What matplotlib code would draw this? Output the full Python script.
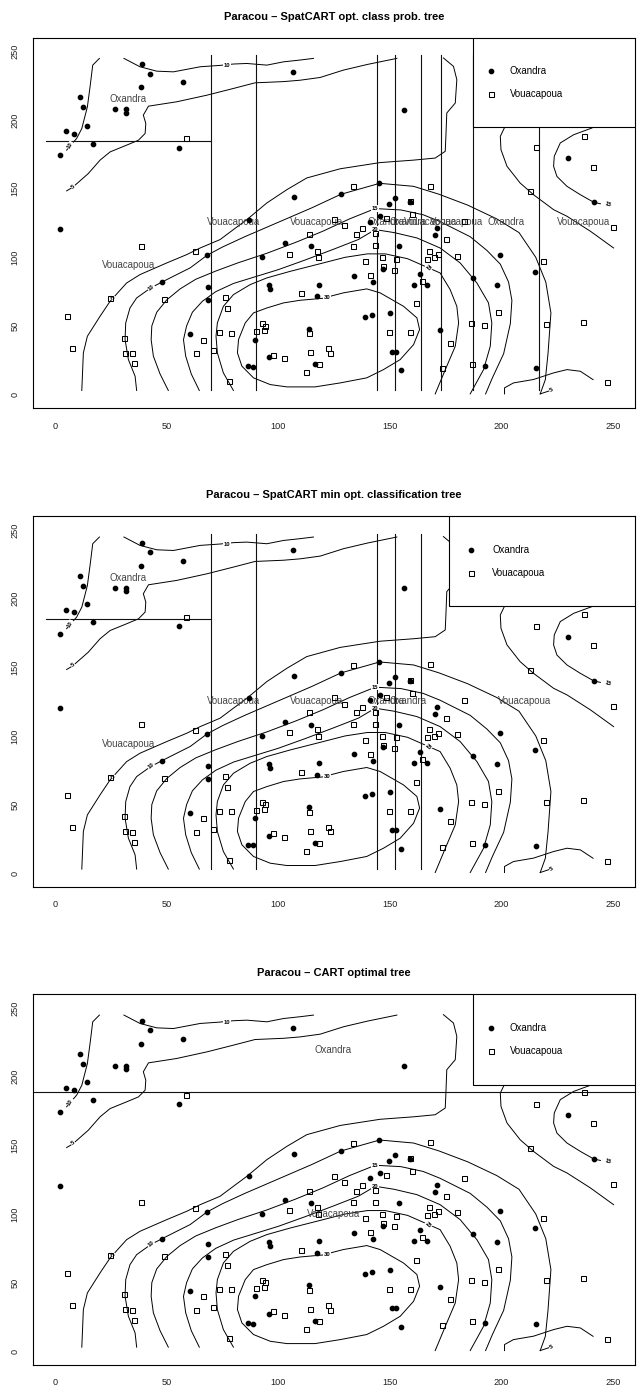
import matplotlib
matplotlib.use("Agg")
import matplotlib.pyplot as plt
from matplotlib.patches import Rectangle

plt.rcParams['font.family'] = ['Liberation Sans', 'DejaVu Sans']

# tree locations (x, y) for the two species
oxandra_x = [39.1, 42.5, 57.5, 38.5, 106.6, 10.9, 12.4, 26.9, 31.9, 31.9, 14.4, 4.9, 8.4, 16.9, 2.0,
             55.5, 107.0, 87.1, 156.6, 230.1, 241.5, 145.4, 128.1, 152.2, 149.9, 159.2, 141.0, 145.5,
             171.0, 170.3, 103.1, 114.6, 154.1, 92.6, 147.1, 134.1, 142.6, 163.6, 161.0, 166.5, 95.9,
             96.5, 118.5, 117.4, 2.0, 68.1, 47.9, 68.5, 68.5, 60.5, 89.5, 95.9, 86.5, 88.6, 113.9,
             116.6, 139.1, 142.0, 150.0, 151.1, 152.6, 155.0, 172.5, 192.6, 187.5, 198.1, 199.6, 215.0,
             215.6]
oxandra_y = [240.7, 233.7, 227.4, 223.8, 235.2, 216.7, 209.2, 207.8, 208.0, 205.3, 195.8, 191.7, 190.0,
             182.7, 174.3, 179.8, 143.9, 127.4, 207.5, 172.1, 140.1, 153.9, 145.9, 143.0, 138.6, 140.0,
             126.0, 129.8, 121.0, 116.2, 110.1, 108.0, 108.0, 100.0, 91.6, 86.5, 82.0, 88.0, 80.1, 80.1,
             79.9, 77.0, 80.1, 71.5, 120.6, 101.5, 82.0, 78.2, 68.9, 44.2, 40.0, 27.2, 20.7, 20.2, 48.0,
             22.3, 56.6, 57.8, 59.3, 31.3, 31.3, 17.8, 47.1, 20.7, 85.2, 79.9, 101.9, 89.6, 19.7]

vouaca_x = [58.5, 215.6, 237.2, 241.0, 213.1, 133.5, 168.0, 159.2, 160.2, 125.2, 148.2, 183.4, 129.6,
            113.6, 137.6, 135.0, 143.5, 175.2, 133.6, 143.5, 167.5, 171.5, 170.0, 166.5, 180.1, 105.0,
            117.6, 117.9, 139.1, 146.6, 153.0, 147.1, 152.0, 141.1, 164.6, 110.0, 162.0, 38.5, 62.6,
            48.9, 24.4, 5.4, 7.4, 31.0, 31.4, 34.4, 35.5, 76.0, 76.9, 66.4, 63.2, 70.9, 73.5, 79.0, 78.1,
            92.5, 94.1, 93.5, 89.9, 97.6, 102.5, 113.6, 114.3, 112.5, 118.3, 122.1, 123.0, 149.5, 158.9,
            177.0, 173.6, 186.4, 192.4, 198.6, 187.0, 218.6, 219.9, 236.5, 247.6, 250.0]
vouaca_y = [186.9, 180.1, 188.6, 166.0, 148.1, 151.6, 152.1, 141.0, 131.2, 128.0, 128.7, 126.2, 123.5,
            117.1, 121.1, 117.1, 117.6, 113.1, 108.6, 109.0, 104.8, 102.2, 100.0, 99.0, 101.2, 102.6,
            104.9, 100.1, 97.1, 100.0, 98.9, 93.4, 91.0, 86.9, 83.0, 73.7, 66.6, 108.5, 104.6, 69.4,
            70.4, 57.1, 34.0, 41.5, 30.6, 30.1, 23.1, 70.9, 63.1, 40.0, 30.1, 32.5, 45.6, 45.1, 9.7,
            52.2, 50.2, 47.1, 46.1, 29.1, 26.7, 44.9, 30.9, 16.3, 22.3, 34.0, 30.4, 45.4, 45.4, 37.9,
            19.2, 52.2, 50.5, 60.2, 22.3, 97.1, 51.7, 53.2, 9.2, 122.1]

# density contours: (level text, xs, ys, label x, label y, label angle)
contours = [
    ("5", [5.1, 7.8, 14.8, 20.1, 24.6, 32.0, 37.3, 40.3, 40.6, 39.5, 41.8, 54.5, 68.0, 79.9, 89.6,
           102.4, 109.8, 118.8, 129.3, 140.0, 153.2],
          [148.4, 151.0, 161.0, 170.8, 176.8, 181.7, 185.3, 190.2, 197.5, 203.6, 210.1, 213.3, 218.1,
           223.0, 227.1, 228.0, 229.0, 231.0, 236.4, 240.5, 244.9], 8.0, 151.5, 40),
    ("10", [30.8, 38.0, 45.5, 53.0, 65.0, 73.9, 79.9, 85.9, 94.9, 102.4, 109.8, 115.8],
           [244.9, 238.8, 235.6, 235.1, 238.8, 239.8, 240.8, 241.2, 240.0, 242.4, 243.7, 244.9],
     76.9, 239.8, 0),
    ("10", [19.8, 16.8, 15.6, 14.4, 11.9, 9.6, 6.6, 5.1],
           [244.9, 240.0, 224.2, 209.6, 193.8, 186.6, 181.0, 178.1], 6.8, 181.5, 60),
    ("", [203.0, 201.4, 199.6, 199.9, 202.6, 208.5, 214.5, 223.5, 229.5, 240.0, 250.4],
         [215.0, 194.2, 188.1, 178.4, 166.3, 154.1, 145.6, 134.7, 129.9, 119.0, 106.8], 0, 0, 0),
    ("15", [250.0, 240.7, 232.5, 226.5, 223.8, 223.5, 225.0, 229.5, 235.5, 241.5, 244.5],
           [205.0, 194.2, 189.3, 183.3, 173.6, 166.3, 158.9, 151.7, 145.6, 140.1, 139.0],
     247.8, 138.6, -15),
    ("", [201.5, 201.5, 205.5, 214.5, 223.5, 229.5, 235.5, 241.2],
         [0.5, 4.9, 8.5, 11.0, 15.8, 18.2, 17.0, 10.9], 0, 0, 0),
    ("5", [217.5, 222.5], [0.5, 3.2], 222.5, 3.2, 30),
    ("5", [11.9, 12.6, 14.4, 20.1, 24.6, 32.0, 38.0, 50.0, 59.0, 65.0, 73.9, 79.9, 85.9, 94.9, 103.9,
           112.8, 127.8, 145.7, 160.7, 170.4, 174.9, 175.2, 175.6, 179.4, 180.1, 178.6, 174.1],
          [3.0, 30.4, 42.5, 57.1, 68.0, 81.3, 87.4, 95.9, 102.0, 106.8, 112.9, 120.2, 127.4, 139.6,
           149.3, 157.8, 164.5, 169.0, 170.8, 172.3, 177.2, 188.1, 205.1, 212.4, 229.4, 239.1, 245.2],
     26.0, 70.5, 55),
    ("10", [36.5, 35.8, 32.8, 31.3, 31.6, 33.5, 36.5, 42.8, 47.9, 53.0, 60.5, 68.1, 75.0, 85.0, 95.0,
            105.0, 115.0, 128.1, 145.5, 160.7, 172.0, 185.0, 198.0, 208.0, 215.5, 220.0, 222.3, 221.0,
            219.8, 217.5],
           [3.0, 13.4, 25.5, 40.1, 52.2, 63.1, 70.4, 77.7, 82.0, 86.2, 92.3, 101.5, 107.5, 115.0, 122.0,
            129.0, 136.0, 145.9, 153.9, 151.7, 146.0, 138.0, 128.0, 118.0, 100.0, 82.0, 59.5, 30.0,
            10.9, 0.5], 43.0, 78.0, 40),
    ("15", [50.7, 47.0, 44.0, 43.0, 43.3, 45.5, 50.0, 56.0, 63.0, 72.0, 82.0, 95.0, 108.0, 120.0,
            132.0, 143.5, 155.0, 165.0, 172.6, 186.1, 193.6, 199.6, 203.3, 204.8, 204.1, 201.1, 196.0,
            193.0],
           [3.0, 15.0, 28.0, 40.0, 50.0, 60.0, 69.0, 77.0, 84.0, 90.0, 96.0, 103.0, 111.0, 119.0,
            128.0, 135.5, 134.5, 131.0, 126.0, 115.0, 105.0, 95.0, 82.0, 68.7, 51.7, 29.8, 12.0, 0.5],
     143.5, 135.5, 0),
    ("20", [64.6, 61.0, 58.5, 57.5, 58.9, 61.5, 66.0, 72.0, 80.0, 90.0, 100.0, 112.0, 125.0, 136.0,
            143.5, 152.0, 162.2, 172.6, 181.6, 189.1, 194.3, 195.8, 195.1, 192.1, 186.1],
           [3.0, 15.0, 28.0, 40.0, 50.0, 60.0, 68.0, 75.0, 81.0, 86.0, 91.0, 98.0, 106.0, 113.0,
            120.2, 118.0, 114.1, 106.8, 95.9, 81.3, 66.8, 52.2, 35.2, 18.2, 0.5], 143.5, 120.2, 0),
    ("25", [79.9, 75.4, 72.7, 72.1, 72.7, 75.4, 79.9, 87.4, 94.9, 105.4, 118.0, 130.0, 140.0, 148.0,
            158.0, 167.4, 172.6, 177.1, 180.1, 180.9, 179.4, 175.6, 170.4],
           [3.0, 15.8, 30.4, 42.5, 52.2, 64.3, 72.8, 80.1, 85.0, 89.8, 95.0, 100.0, 102.5, 102.5,
            99.0, 92.3, 88.6, 76.5, 64.3, 52.2, 35.2, 20.7, 0.5], 167.4, 92.3, -40),
    ("30", [121.8, 109.8, 102.4, 94.9, 88.9, 85.2, 82.2, 81.7, 83.7, 88.9, 96.4, 103.9, 116.5, 127.8,
            139.7, 147.2, 154.7, 160.7, 163.4, 162.2, 156.2, 145.7, 139.7, 129.2, 123.3, 121.8],
           [70.4, 68.7, 66.8, 63.1, 59.5, 52.2, 40.1, 30.4, 20.7, 12.2, 7.3, 5.6, 5.6, 8.5, 12.2,
            18.2, 25.5, 36.4, 47.4, 55.9, 64.3, 74.1, 77.0, 74.1, 71.6, 70.4], 121.8, 70.4, 0),
]

titles = ["Paracou \u2013 SpatCART opt. class prob. tree",
          "Paracou \u2013 SpatCART min opt. classification tree",
          "Paracou \u2013 CART optimal tree"]

# tree partitions: (x0, x1, y0, y1) segments
splits = [
    [(-4.2, 69.7, 185.0, 185.0)] + [(v, v, 3.2, 247.3) for v in
                                    [69.7, 89.9, 144.5, 152.5, 164.0, 173.0, 187.3, 217.1]],
    [(-4.2, 69.7, 185.0, 185.0)] + [(v, v, 3.2, 247.3) for v in [69.7, 89.9, 144.5, 152.5, 164.0]],
    [(-10.0, 260.0, 189.1, 189.1)],
]
leaf_labels = [
    [(32.8, 215.2, "Oxandra"), (32.8, 94.2, "Vouacapoua"), (79.8, 125.4, "Vouacapoua"),
     (117.2, 125.4, "Vouacapoua"), (148.5, 125.4, "Oxandra"), (158.2, 125.4, "Oxandra"),
     (168.5, 125.4, "Vouacapoua"), (180.1, 125.4, "Vouacapoua"), (202.2, 125.4, "Oxandra"),
     (237.1, 125.4, "Vouacapoua")],
    [(32.8, 215.2, "Oxandra"), (32.8, 94.2, "Vouacapoua"), (79.8, 125.4, "Vouacapoua"),
     (117.2, 125.4, "Vouacapoua"), (148.5, 125.4, "Oxandra"), (158.2, 125.4, "Oxandra"),
     (210.5, 125.4, "Vouacapoua")],
    [(124.8, 219.6, "Oxandra"), (124.8, 100.0, "Vouacapoua")],
]
# legend box left edge and bottom edge, marker column, text column
legend_boxes = [(187.2, 195.0, 195.4, 203.8), (176.7, 194.8, 186.6, 195.9), (187.2, 194.2, 195.4, 203.8)]

fig = plt.figure(figsize=(6.39, 13.95), dpi=100)
bottoms = [0.7073, 0.3642, 0.0215]

for i in range(3):
    ax = fig.add_axes([0.0516, bottoms[i], 0.9421, 0.2657])
    ax.set_xlim(-10, 260)
    ax.set_ylim(-10, 260)
    ax.set_xticks([0, 50, 100, 150, 200, 250])
    ax.set_yticks([0, 50, 100, 150, 200, 250])
    ax.tick_params(length=0, pad=9.5, labelsize=6.6, colors="#222222")
    ax.tick_params(axis="y", labelrotation=90)
    for lab in ax.get_yticklabels():
        lab.set_va("center")
    for s in ax.spines.values():
        s.set_linewidth(0.8)
    ax.set_title(titles[i], fontsize=8, fontweight="bold", pad=13)

    for txt, xs, ys, lx, ly, rot in contours:
        ax.plot(xs, ys, color="black", lw=0.7, zorder=2)
        if txt:
            ax.text(lx, ly, txt, fontsize=4.2, fontweight="bold", rotation=rot, ha="center",
                    va="center", zorder=2.5,
                    bbox=dict(facecolor="white", edgecolor="none", pad=0.4))

    ax.plot(oxandra_x, oxandra_y, "o", color="black", ms=3.1, zorder=3)
    ax.plot(vouaca_x, vouaca_y, "s", mfc="none", mec="black", mew=0.75, ms=3.6, zorder=3)

    for x0, x1, y0, y1 in splits[i]:
        ax.plot([x0, x1], [y0, y1], color="#111111", lw=0.8, zorder=2.2)
    for lx, ly, txt in leaf_labels[i]:
        ax.text(lx, ly, txt, fontsize=6.9, color="#444444", ha="center", va="center", zorder=2.6)

    bx, by, mx, tx = legend_boxes[i]
    ax.add_patch(Rectangle((bx, by), 260 - bx, 260 - by, facecolor="white", edgecolor="black",
                           lw=0.8, zorder=5))
    ax.plot([mx], [235.4], "o", color="black", ms=3.1, zorder=6)
    ax.plot([mx], [219.0], "s", mfc="none", mec="black", mew=0.75, ms=3.6, zorder=6)
    ax.text(tx, 235.4, "Oxandra", fontsize=6.9, va="center", zorder=6)
    ax.text(tx, 219.0, "Vouacapoua", fontsize=6.9, va="center", zorder=6)

fig.savefig("out.png", dpi=100)
